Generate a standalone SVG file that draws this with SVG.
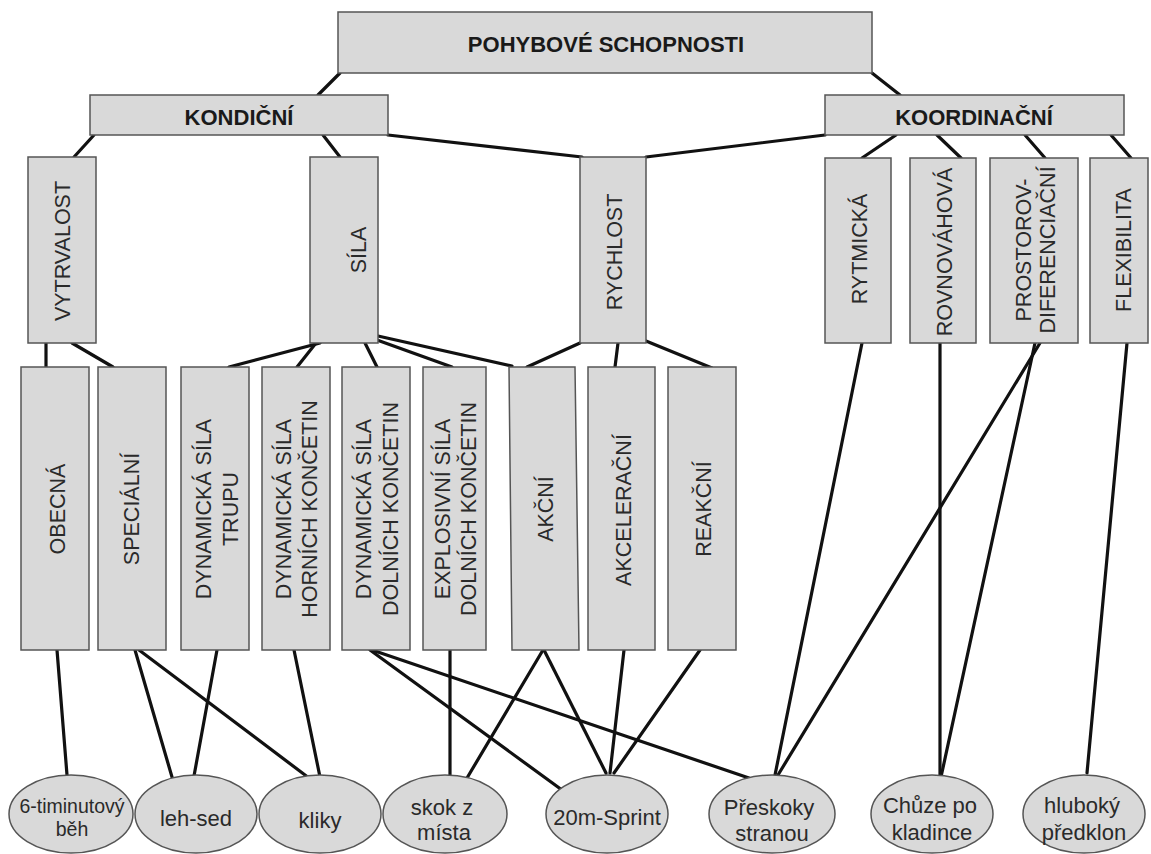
<svg xmlns="http://www.w3.org/2000/svg" width="1151" height="854" viewBox="0 0 1151 854">
<style>
.box{fill:#d9d9d9;stroke:#555;stroke-width:1.5}
.ell{fill:#d9d9d9;stroke:#555;stroke-width:1.5}
.b{font-family:"Liberation Sans",Arial,sans-serif;font-weight:bold;font-size:22px;fill:#1a1a1a;text-anchor:middle}
.v{font-family:"Liberation Sans",Arial,sans-serif;font-size:21.5px;fill:#2a2a2a;text-anchor:middle}
.t{font-family:"Liberation Sans",Arial,sans-serif;font-size:22px;fill:#2a2a2a;text-anchor:middle}
#connectors line{stroke:#111;stroke-width:3.2;stroke-linecap:round}
</style>
<rect width="1151" height="854" fill="#fff"/>
<g id="connectors">
<line x1="340" y1="73" x2="318" y2="95"/>
<line x1="872" y1="73" x2="900" y2="95"/>
<line x1="94" y1="135" x2="74" y2="157"/>
<line x1="323" y1="135" x2="340" y2="157"/>
<line x1="388" y1="135" x2="582" y2="157"/>
<line x1="825" y1="135" x2="646" y2="157"/>
<line x1="896" y1="135" x2="862" y2="158"/>
<line x1="937" y1="135" x2="961" y2="158"/>
<line x1="1025" y1="135" x2="1045" y2="158"/>
<line x1="1111" y1="135" x2="1131" y2="158"/>
<line x1="46" y1="343" x2="46" y2="367"/>
<line x1="72" y1="343" x2="113" y2="367"/>
<line x1="320" y1="343" x2="229" y2="367"/>
<line x1="316" y1="343" x2="297" y2="367"/>
<line x1="365" y1="343" x2="377" y2="367"/>
<line x1="377" y1="340" x2="452" y2="367"/>
<line x1="378" y1="336" x2="512" y2="366"/>
<line x1="580" y1="343" x2="527" y2="367"/>
<line x1="618" y1="343" x2="615" y2="367"/>
<line x1="646" y1="341" x2="712" y2="368"/>
<line x1="57" y1="650" x2="67" y2="775"/>
<line x1="135" y1="650" x2="172" y2="777"/>
<line x1="139" y1="650" x2="309" y2="778"/>
<line x1="217" y1="650" x2="194" y2="776"/>
<line x1="294" y1="650" x2="320" y2="777"/>
<line x1="370" y1="650" x2="562" y2="790"/>
<line x1="372" y1="650" x2="749" y2="778"/>
<line x1="450" y1="650" x2="450" y2="777"/>
<line x1="543" y1="650" x2="467" y2="778"/>
<line x1="544" y1="650" x2="606" y2="773"/>
<line x1="624" y1="650" x2="610" y2="773"/>
<line x1="700" y1="650" x2="614" y2="773"/>
<line x1="862" y1="343" x2="775" y2="775"/>
<line x1="1040" y1="343" x2="778" y2="775"/>
<line x1="1035" y1="343" x2="941" y2="777"/>
<line x1="940" y1="343" x2="940" y2="777"/>
<line x1="1127" y1="343" x2="1087" y2="773"/>
</g>
<g id="n-pohybove"><rect class="box" x="338" y="12" width="534" height="61"/><text class="b" x="606" y="52">POHYBOVÉ SCHOPNOSTI</text></g>
<g id="n-kondicni"><rect class="box" x="90" y="95" width="298" height="40"/><text class="b" x="239" y="125">KONDIČNÍ</text></g>
<g id="n-koordinacni"><rect class="box" x="825" y="95" width="299" height="40"/><text class="b" x="974" y="125">KOORDINAČNÍ</text></g>
<g id="n-vytrvalost"><rect class="box" x="28" y="157" width="68" height="186"/><text class="v" transform="translate(69.7,251) rotate(-90)">VYTRVALOST</text></g>
<g id="n-sila"><rect class="box" x="310" y="157" width="68" height="186"/><text class="v" transform="translate(365.7,250) rotate(-90)">SÍLA</text></g>
<g id="n-rychlost"><rect class="box" x="580" y="157" width="66" height="186"/><text class="v" transform="translate(622,252) rotate(-90)">RYCHLOST</text></g>
<g id="n-rytmicka"><rect class="box" x="825" y="158" width="66" height="185"/><text class="v" transform="translate(866.7,249) rotate(-90)">RYTMICKÁ</text></g>
<g id="n-rovnovahova"><rect class="box" x="910" y="158" width="66" height="185"/><text class="v" transform="translate(951.7,252) rotate(-90)">ROVNOVÁHOVÁ</text></g>
<g id="n-prostorov"><rect class="box" x="990" y="158" width="88" height="185"/><text class="v" transform="translate(1031,250) rotate(-90)"><tspan x="0" y="0">PROSTOROV-</tspan><tspan x="0" y="24">DIFERENCIAČNÍ</tspan></text></g>
<g id="n-flexibilita"><rect class="box" x="1090" y="158" width="58" height="185"/><text class="v" transform="translate(1131,250) rotate(-90)">FLEXIBILITA</text></g>
<g id="n-obecna"><rect class="box" x="21" y="367" width="68" height="283"/><text class="v" transform="translate(64.7,509) rotate(-90)">OBECNÁ</text></g>
<g id="n-specialni"><rect class="box" x="98" y="367" width="68" height="283"/><text class="v" transform="translate(139,509) rotate(-90)">SPECIÁLNÍ</text></g>
<g id="n-dyn-trupu"><rect class="box" x="181" y="367" width="68" height="283"/><text class="v" transform="translate(210.7,509) rotate(-90)"><tspan x="0" y="0">DYNAMICKÁ SÍLA</tspan><tspan x="0" y="27">TRUPU</tspan></text></g>
<g id="n-dyn-hornich"><rect class="box" x="262" y="367" width="68" height="283"/><text class="v" transform="translate(291,509) rotate(-90)"><tspan x="0" y="0">DYNAMICKÁ SÍLA</tspan><tspan x="0" y="26">HORNÍCH KONČETIN</tspan></text></g>
<g id="n-dyn-dolnich"><rect class="box" x="342" y="367" width="68" height="283"/><text class="v" transform="translate(370.7,509) rotate(-90)"><tspan x="0" y="0">DYNAMICKÁ SÍLA</tspan><tspan x="0" y="27">DOLNÍCH KONČETIN</tspan></text></g>
<g id="n-explosivni"><rect class="box" x="423" y="367" width="63" height="283"/><text class="v" transform="translate(450,509) rotate(-90)"><tspan x="0" y="0">EXPLOSIVNÍ SÍLA</tspan><tspan x="0" y="26">DOLNÍCH KONČETIN</tspan></text></g>
<g id="n-akcni"><polygon class="box" points="509,367 575,367 579,650 512,650"/><text class="v" transform="translate(552.7,509) rotate(-90)">AKČNÍ</text></g>
<g id="n-akceleracni"><rect class="box" x="588" y="367" width="67" height="283"/><text class="v" transform="translate(630.7,510) rotate(-90)">AKCELERAČNÍ</text></g>
<g id="n-reakcni"><rect class="box" x="668" y="367" width="68" height="283"/><text class="v" transform="translate(710.7,509) rotate(-90)">REAKČNÍ</text></g>
<g id="n-6min"><ellipse class="ell" cx="71" cy="814" rx="62" ry="39"/><text class="t" style="font-size:19.5px" x="72" y="813">6-timinutový</text><text class="t" style="font-size:19.5px" x="72" y="836">běh</text></g>
<g id="n-lehsed"><ellipse class="ell" cx="196" cy="814" rx="61" ry="39"/><text class="t" x="196" y="826">leh-sed</text></g>
<g id="n-kliky"><ellipse class="ell" cx="320" cy="814" rx="61" ry="39"/><text class="t" x="320" y="828">kliky</text></g>
<g id="n-skok"><ellipse class="ell" cx="445" cy="814" rx="62" ry="39"/><text class="t" x="442" y="815">skok z</text><text class="t" x="444" y="840">místa</text></g>
<g id="n-sprint"><ellipse class="ell" cx="607" cy="814" rx="61" ry="39"/><text class="t" x="607" y="825">20m-Sprint</text></g>
<g id="n-preskoky"><ellipse class="ell" cx="772" cy="814" rx="63" ry="39"/><text class="t" x="769" y="815">Přeskoky</text><text class="t" x="772" y="841">stranou</text></g>
<g id="n-chuze"><ellipse class="ell" cx="932" cy="814" rx="61" ry="39"/><text class="t" x="930" y="813">Chůze po</text><text class="t" x="932" y="840">kladince</text></g>
<g id="n-hluboky"><ellipse class="ell" cx="1084" cy="814" rx="61" ry="39"/><text class="t" x="1082" y="813">hluboký</text><text class="t" x="1084" y="840">předklon</text></g>
</svg>
